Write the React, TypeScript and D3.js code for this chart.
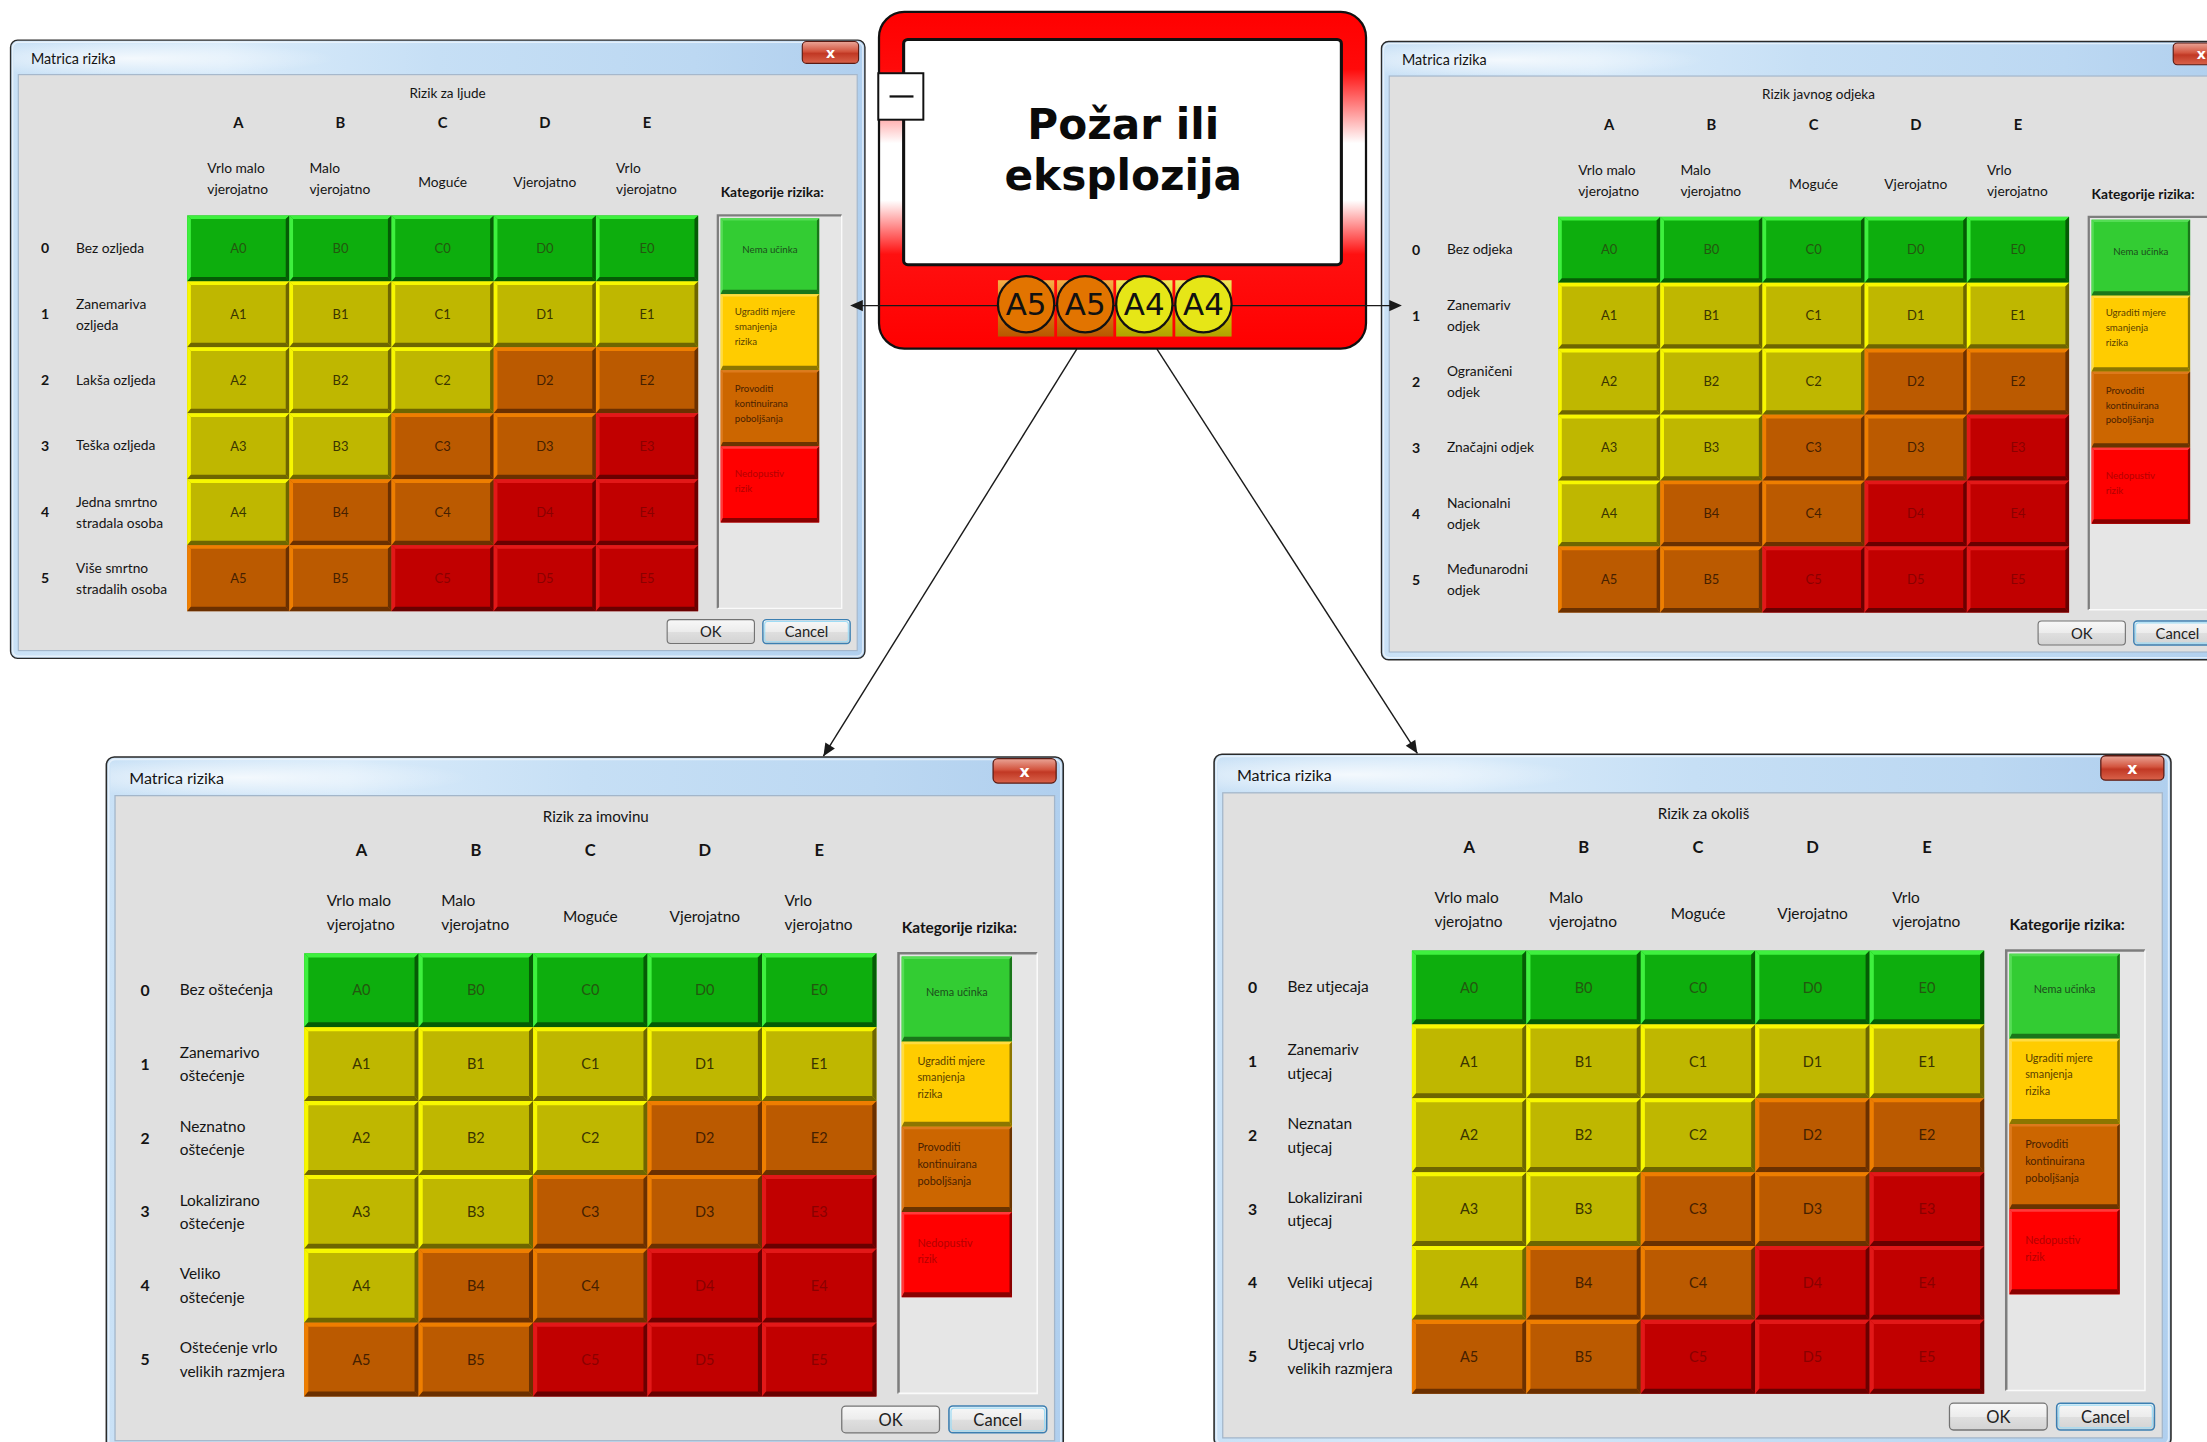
import React from "react";
import * as d3 from "d3";

// ---------- DATA ----------
const columnLetters = ["A", "B", "C", "D", "E"];
const columnLabels = [
  ["Vrlo malo", "vjerojatno"],
  ["Malo", "vjerojatno"],
  ["Moguće"],
  ["Vjerojatno"],
  ["Vrlo", "vjerojatno"],
];
const rowNumbers = ["0", "1", "2", "3", "4", "5"];

const peopleRows = [
  ["Bez ozljeda"],
  ["Zanemariva", "ozljeda"],
  ["Lakša ozljeda"],
  ["Teška ozljeda"],
  ["Jedna smrtno", "stradala osoba"],
  ["Više smrtno", "stradalih osoba"],
];
const reputationRows = [
  ["Bez odjeka"],
  ["Zanemariv", "odjek"],
  ["Ograničeni", "odjek"],
  ["Značajni odjek"],
  ["Nacionalni", "odjek"],
  ["Međunarodni", "odjek"],
];
const propertyRows = [
  ["Bez oštećenja"],
  ["Zanemarivo", "oštećenje"],
  ["Neznatno", "oštećenje"],
  ["Lokalizirano", "oštećenje"],
  ["Veliko", "oštećenje"],
  ["Oštećenje vrlo", "velikih razmjera"],
];
const environmentRows = [
  ["Bez utjecaja"],
  ["Zanemariv", "utjecaj"],
  ["Neznatan", "utjecaj"],
  ["Lokalizirani", "utjecaj"],
  ["Veliki utjecaj"],
  ["Utjecaj vrlo", "velikih razmjera"],
];
const matrixTitles = ["Rizik za ljude", "Rizik javnog odjeka", "Rizik za imovinu", "Rizik za okoliš"];
const windowTitle = "Matrica rizika";
const legendTitle = "Kategorije rizika:";

// risk category per row (0..5) and column (A..E)
const riskLevels = [
  [0, 0, 0, 0, 0],
  [1, 1, 1, 1, 1],
  [1, 1, 1, 2, 2],
  [1, 1, 2, 2, 3],
  [1, 2, 2, 3, 3],
  [2, 2, 3, 3, 3],
];
const categories = [
  ["Nema učinka"],
  ["Ugraditi mjere", "smanjenja", "rizika"],
  ["Provoditi", "kontinuirana", "poboljšanja"],
  ["Nedopustiv", "rizik"],
];
const eventTitle = ["Požar ili", "eksplozija"];
const badgeLabels = ["A5", "A5", "A4", "A4"];
const badgeLevels = [2, 2, 1, 1];

// ---------- STYLE ----------
const cellFill = ["#0dae0d", "#bfb700", "#bb5a00", "#c10000"];
const cellLight = ["#3ef03e", "#f7f700", "#ee7e00", "#e21818"];
const cellDark = ["#055c05", "#6e6600", "#6b3000", "#6a0000"];
const cellText = ["#23570f", "#3a3400", "#452000", "#8a0000"];
const legendFill = ["#33cc33", "#ffcc00", "#cc6600", "#ff0000"];
const legendLight = ["#55dd55", "#ffdc40", "#dd7a1c", "#ff3a3a"];
const legendDark = ["#1a761a", "#8c7600", "#6a3400", "#8a0000"];
const legendText = ["#1c4d1c", "#5a3f00", "#4a2200", "#b40000"];
const legendTextOffset = [25, 14.5, 15.5, 22];
const badgeFill = ["#0dae0d", "#e6e617", "#e27400", "#c10000"];

const FONT = "Lato, 'Open Sans', sans-serif";
const INK = "#141414";
const W = 608;
const H = 440;

const windowLayout = [
  { x: 7, y: 28, s: 1 },
  { x: 981, y: 29, s: 1 },
  { x: 75, y: 537, s: 1.12 },
  { x: 862, y: 535, s: 1.12 },
];
const windowRows = [peopleRows, reputationRows, propertyRows, environmentRows];

const xScale = d3.scaleBand<string>().domain(columnLetters).range([126, 489]);
const yScale = d3.scaleBand<string>().domain(rowNumbers).range([125, 406]);
const legendScale = d3.scaleBand<number>().domain([0, 1, 2, 3]).range([127, 343]);

function Bevel({ x, y, w, h, b, fill, light, dark, bb }: any) {
  const bt = bb ?? b;
  return (
    <g>
      <rect x={x} y={y} width={w} height={h} fill={fill} />
      <polygon points={`${x},${y} ${x + w},${y} ${x + w - b},${y + b} ${x + b},${y + b}`} fill={light} />
      <polygon points={`${x},${y} ${x + b},${y + b} ${x + b},${y + h - bt} ${x},${y + h}`} fill={light} />
      <polygon points={`${x},${y + h} ${x + b},${y + h - bt} ${x + w - b},${y + h - bt} ${x + w},${y + h}`} fill={dark} />
      <polygon points={`${x + w},${y} ${x + w},${y + h} ${x + w - b},${y + h - bt} ${x + w - b},${y + b}`} fill={dark} />
    </g>
  );
}

function RiskWindow({ idx }: { idx: number }) {
  const L = windowLayout[idx];
  const rows = windowRows[idx];
  const bw = xScale.bandwidth();
  const bh = yScale.bandwidth();
  const lh = legendScale.bandwidth();
  return (
    <g transform={`translate(${L.x},${L.y}) scale(${L.s})`} fontFamily={FONT}>
      {/* frame */}
      <rect x={0.5} y={0.5} width={W - 1} height={H - 1} rx={5} fill="url(#frameGrad)" stroke="#2a2a2a" strokeWidth={1} />
      <rect x={2} y={2} width={W - 4} height={H - 4} rx={4} fill="none" stroke="#f2f8fe" strokeOpacity={0.7} strokeWidth={1} />
      <rect x={3} y={3} width={240} height={21} fill="url(#shineGrad)" />
      <text x={15} y={17.5} fontSize={10.2} fill={INK}>{windowTitle}</text>
      {/* close button */}
      <rect x={563} y={1.5} width={40} height={15.5} rx={3} fill="url(#closeGrad)" stroke="#5a1a12" strokeWidth={0.8} />
      <text x={583} y={13} fontSize={10} fontWeight="bold" fill="#ffffff" textAnchor="middle" fontFamily="'DejaVu Sans', sans-serif">x</text>
      {/* inner panel */}
      <rect x={6} y={25} width={596} height={409} fill="#e0e0e0" stroke="#a3b6ca" strokeWidth={0.8} />
      {/* subtitle */}
      <text x={311} y={41.5} fontSize={9.6} fill={INK} textAnchor="middle">{matrixTitles[idx]}</text>
      {/* columns */}
      {columnLetters.map((c, i) => {
        const cx = (xScale(c) as number) + bw / 2;
        const lines = columnLabels[i];
        return (
          <g key={c}>
            <text x={cx} y={63} fontSize={10.5} fontWeight="bold" fill={INK} textAnchor="middle">{c}</text>
            {lines.length === 2 ? (
              lines.map((t, k) => (
                <text key={k} x={cx - 22} y={95 + k * 15} fontSize={9.8} fill={INK}>{t}</text>
              ))
            ) : (
              <text x={cx} y={105} fontSize={9.8} fill={INK} textAnchor="middle">{lines[0]}</text>
            )}
          </g>
        );
      })}
      <text x={505} y={112} fontSize={9.8} fontWeight="bold" fill={INK}>{legendTitle}</text>
      {/* rows */}
      {rowNumbers.map((r, j) => {
        const cy = (yScale(r) as number) + bh / 2;
        const lines = rows[j];
        return (
          <g key={r}>
            <text x={25} y={cy + 3.5} fontSize={10} fontWeight="bold" fill={INK} textAnchor="middle">{r}</text>
            {lines.length === 2 ? (
              lines.map((t, k) => (
                <text key={k} x={47} y={cy - 4 + k * 15} fontSize={9.8} fill={INK}>{t}</text>
              ))
            ) : (
              <text x={47} y={cy + 3} fontSize={9.8} fill={INK}>{lines[0]}</text>
            )}
          </g>
        );
      })}
      {/* grid cells */}
      {rowNumbers.map((r, j) =>
        columnLetters.map((c, i) => {
          const lv = riskLevels[j][i];
          const x0 = xScale(c) as number;
          const y0 = yScale(r) as number;
          return (
            <g key={c + r}>
              <Bevel x={x0} y={y0} w={bw} h={bh} b={2.6} bb={3.2} fill={cellFill[lv]} light={cellLight[lv]} dark={cellDark[lv]} />
              <text x={x0 + bw / 2} y={y0 + bh / 2 + 3.3} fontSize={9.2} fill={cellText[lv]} textAnchor="middle">{c + r}</text>
            </g>
          );
        })
      )}
      {/* legend panel */}
      <rect x={503} y={125} width={88} height={279} fill="#e6e6e6" />
      <path d="M503,404 L503,125 L591,125" fill="none" stroke="#7d7d7d" strokeWidth={1.6} />
      <path d="M591,125 L591,404 L503,404" fill="none" stroke="#fafafa" strokeWidth={1} />
      {categories.map((lines, k) => {
        const t = legendScale(k) as number;
        return (
          <g key={k}>
            <Bevel x={505} y={t} w={70} h={lh} b={1.6} bb={3.2} fill={legendFill[k]} light={legendLight[k]} dark={legendDark[k]} />
            {lines.map((s, m) => (
              <text
                key={m}
                x={k === 0 ? 540 : 515}
                y={t + legendTextOffset[k] + m * 10.6}
                fontSize={6.9}
                fill={legendText[k]}
                textAnchor={k === 0 ? "middle" : "start"}
              >
                {s}
              </text>
            ))}
          </g>
        );
      })}
      {/* buttons */}
      <rect x={467} y={412} width={62} height={17} rx={2.5} fill="url(#btnGrad)" stroke="#737373" strokeWidth={0.8} />
      <text x={498} y={424.5} fontSize={10.5} fill="#222" textAnchor="middle">OK</text>
      <rect x={535} y={412} width={62} height={17} rx={2.5} fill="url(#btnGrad)" stroke="#3c7fb1" strokeWidth={1} />
      <rect x={536.3} y={413.3} width={59.4} height={14.4} rx={2} fill="none" stroke="#9fdcf5" strokeWidth={0.8} />
      <text x={566} y={424.5} fontSize={10.5} fill="#222" textAnchor="middle">Cancel</text>
    </g>
  );
}

function arrowHead(tx: number, ty: number, fx: number, fy: number, len = 9, half = 4) {
  const dx = tx - fx;
  const dy = ty - fy;
  const d = Math.hypot(dx, dy);
  const ux = dx / d;
  const uy = dy / d;
  const bx = tx - ux * len;
  const by = ty - uy * len;
  return `${tx},${ty} ${bx - uy * half},${by + ux * half} ${bx + uy * half},${by - ux * half}`;
}

export default function App() {
  const badgeScale = d3.scaleBand<number>().domain(d3.range(badgeLabels.length)).range([708, 876]);
  const bbw = badgeScale.bandwidth();
  const lineY = 217;
  const diag = [
    { x1: 765, y1: 248, x2: 585, y2: 537 },
    { x1: 822, y1: 248, x2: 1007, y2: 535 },
  ];
  return (
    <svg
      width={2207}
      height={1442}
      viewBox="0 0 1568 1024"
      preserveAspectRatio="none"
      style={{ position: "absolute", left: 0, top: 0, background: "#ffffff" }}
    >
      <defs>
        <linearGradient id="frameGrad" x1="0" y1="0" x2="1" y2="0">
          <stop offset="0" stopColor="#c9e1f6" />
          <stop offset="0.25" stopColor="#d9ebfa" />
          <stop offset="0.5" stopColor="#c6dff5" />
          <stop offset="0.8" stopColor="#bcd8f2" />
          <stop offset="1" stopColor="#b0cfee" />
        </linearGradient>
        <radialGradient id="shineGrad" cx="0.35" cy="0.5" r="0.6">
          <stop offset="0" stopColor="#ffffff" stopOpacity={0.75} />
          <stop offset="1" stopColor="#ffffff" stopOpacity={0} />
        </radialGradient>
        <linearGradient id="closeGrad" x1="0" y1="0" x2="0" y2="1">
          <stop offset="0" stopColor="#eaa597" />
          <stop offset="0.45" stopColor="#d3553f" />
          <stop offset="0.55" stopColor="#c13824" />
          <stop offset="1" stopColor="#d9634b" />
        </linearGradient>
        <linearGradient id="btnGrad" x1="0" y1="0" x2="0" y2="1">
          <stop offset="0" stopColor="#f8f8f8" />
          <stop offset="0.5" stopColor="#ececec" />
          <stop offset="0.51" stopColor="#dfdfdf" />
          <stop offset="1" stopColor="#d3d3d3" />
        </linearGradient>
        <linearGradient id="centerGrad" x1="0" y1="0" x2="0" y2="1">
          <stop offset="0" stopColor="#ff0000" />
          <stop offset="0.17" stopColor="#ff0a0a" />
          <stop offset="0.39" stopColor="#ffffff" />
          <stop offset="0.56" stopColor="#ffffff" />
          <stop offset="0.72" stopColor="#ff1010" />
          <stop offset="1" stopColor="#ff0000" />
        </linearGradient>
        <linearGradient id="tile2" x1="0" y1="0" x2="0" y2="1">
          <stop offset="0" stopColor="#f4b048" />
          <stop offset="0.5" stopColor="#e07a12" />
          <stop offset="1" stopColor="#b85800" />
        </linearGradient>
        <linearGradient id="tile1" x1="0" y1="0" x2="0" y2="1">
          <stop offset="0" stopColor="#f0e860" />
          <stop offset="0.5" stopColor="#d8cc00" />
          <stop offset="1" stopColor="#b0a400" />
        </linearGradient>
      </defs>

      {windowLayout.map((_, i) => (
        <RiskWindow key={i} idx={i} />
      ))}

      {/* diagonal connectors */}
      {diag.map((d, i) => (
        <g key={i}>
          <line x1={d.x1} y1={d.y1} x2={d.x2} y2={d.y2} stroke="#1a1a1a" strokeWidth={1} />
          <polygon points={arrowHead(d.x2, d.y2, d.x1, d.y1)} fill="#1a1a1a" />
        </g>
      ))}

      {/* central event box */}
      <rect x={624.5} y={8.5} width={346} height={239} rx={18} fill="url(#centerGrad)" stroke="#111" strokeWidth={1.6} />
      <rect x={642} y={28} width={311} height={160} rx={3} fill="#ffffff" stroke="#111" strokeWidth={2.2} />
      <rect x={624} y={52} width={32} height={33} fill="#ffffff" stroke="#111" strokeWidth={1.4} />
      <line x1={632} y1={68.5} x2={649} y2={68.5} stroke="#111" strokeWidth={1.6} />
      {eventTitle.map((t, i) => (
        <text
          key={i}
          x={798}
          y={99 + i * 36}
          fontSize={30}
          fontWeight="bold"
          fontFamily="'DejaVu Sans', Verdana, sans-serif"
          textAnchor="middle"
          fill="#0a0a0a"
        >
          {t}
        </text>
      ))}

      {/* horizontal connector with arrows */}
      <line x1={606} y1={lineY} x2={993} y2={lineY} stroke="#1a1a1a" strokeWidth={1} />
      <polygon points={arrowHead(604, lineY, 700, lineY)} fill="#1a1a1a" />
      <polygon points={arrowHead(996, lineY, 900, lineY)} fill="#1a1a1a" />

      {/* risk badges */}
      {badgeLabels.map((b, i) => {
        const x0 = badgeScale(i) as number;
        const lv = badgeLevels[i];
        return <rect key={i} x={x0 + 1} y={199} width={bbw - 2} height={40} fill={`url(#tile${lv})`} />;
      })}
      {badgeLabels.map((b, i) => {
        const x0 = badgeScale(i) as number;
        const cx = x0 + bbw / 2;
        const lv = badgeLevels[i];
        return (
          <g key={"c" + i}>
            <circle cx={cx} cy={216} r={20} fill={badgeFill[lv]} stroke="#111" strokeWidth={1.6} />
            <text
              x={cx}
              y={224}
              fontSize={22}
              fontFamily="'DejaVu Sans', sans-serif"
              textAnchor="middle"
              fill="#111"
            >
              {b}
            </text>
          </g>
        );
      })}
    </svg>
  );
}
